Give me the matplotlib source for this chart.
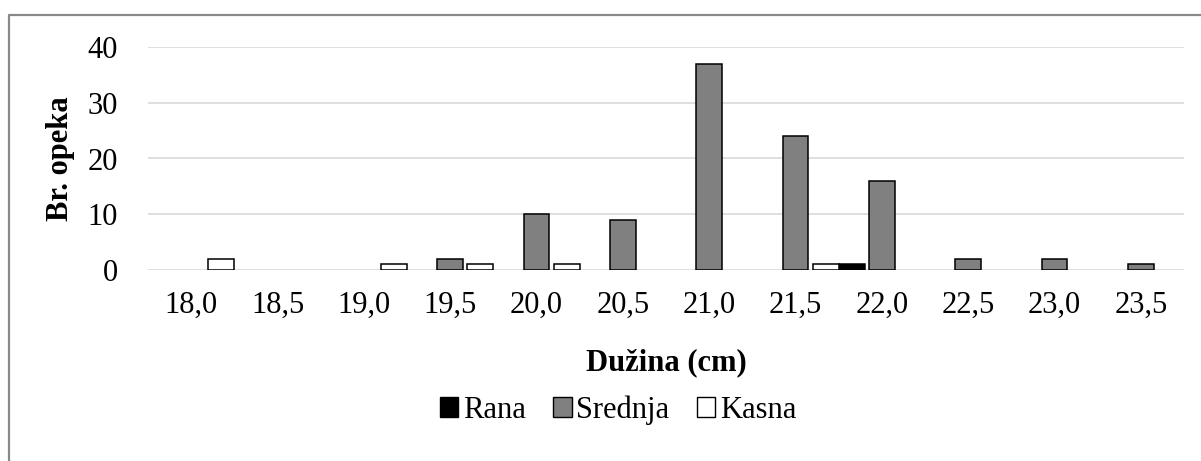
import numpy as np
import matplotlib
matplotlib.use('Agg')
import matplotlib.pyplot as plt
from matplotlib.lines import Line2D

categories = ['18,0', '18,5', '19,0', '19,5', '20,0', '20,5',
              '21,0', '21,5', '22,0', '22,5', '23,0', '23,5']
rana = [0, 0, 0, 0, 0, 0, 0, 0, 1, 0, 0, 0]
srednja = [0, 0, 0, 2, 10, 9, 37, 24, 16, 2, 2, 1]
kasna = [2, 0, 1, 1, 1, 0, 0, 1, 0, 0, 0, 0]
series = [('Rana', rana, 'black'),
          ('Srednja', srednja, '#808080'),
          ('Kasna', kasna, 'white')]

plt.rcParams['font.family'] = ['Liberation Serif', 'DejaVu Serif']
plt.rcParams['font.size'] = 22

fig = plt.figure(figsize=(12.01, 4.61), dpi=100)
ax = fig.add_axes([148 / 1201, 1 - 270 / 461, 1036 / 1201, 223 / 461])

x = np.arange(len(categories))
width = 0.30
offsets = [-0.35, 0.0, 0.35]
for (name, vals, color), off in zip(series, offsets):
    vals = np.array(vals)
    m = vals > 0
    ax.bar(x[m] + off, vals[m], width=width, color=color,
           edgecolor='black', linewidth=1.1, zorder=3)
    # legend handle only
    ax.bar([np.nan], [np.nan], color=color, edgecolor='black',
           linewidth=1.0, label=name)

ax.set_xlim(-0.5, len(categories) - 0.5)
ax.set_ylim(0, 40)
ax.set_yticks([0, 10, 20, 30, 40])
ax.set_xticks(x)
ax.set_xticklabels(categories)
ax.tick_params(axis='both', length=0)
ax.tick_params(axis='y', pad=21.5)
ax.tick_params(axis='x', pad=15)
ax.grid(True, axis='y', color='#d9d9d9', linewidth=1.2, zorder=0)
ax.set_axisbelow(True)
for s in ax.spines.values():
    s.set_visible(False)

ax.set_xlabel('Dužina (cm)', fontweight='bold')
ax.xaxis.set_label_coords(0.5, -0.35)
ax.set_ylabel('Br. opeka', fontweight='bold')
ax.yaxis.set_label_coords(-0.0705, 0.5)

fig.legend(loc='center', bbox_to_anchor=(618 / 1201, 1 - 410 / 461),
           ncol=3, frameon=False, handlelength=0.6, handleheight=0.6,
           handletextpad=0.15, columnspacing=0.9, borderpad=0)

# chart border (left and top edges visible)
fig.add_artist(Line2D([9 / 1201, 9 / 1201, 1.0], [0.0, 1 - 15.5 / 461, 1 - 15.5 / 461],
                      color='#898989', linewidth=1.6, transform=fig.transFigure))

fig.savefig('out.png', dpi=100)
